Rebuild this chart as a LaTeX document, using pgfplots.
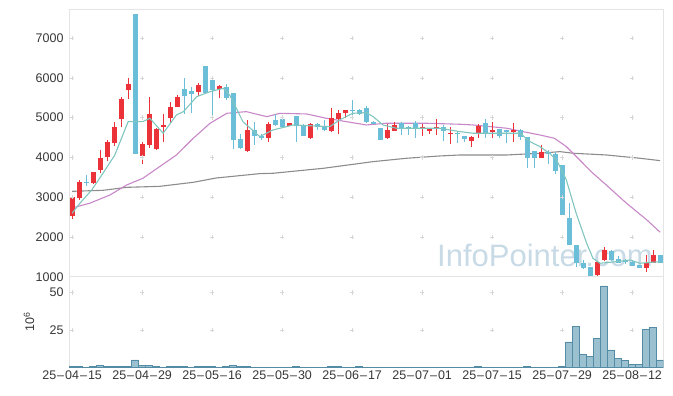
\documentclass[border=0pt]{standalone}
\usepackage{fontspec}
\setmainfont{Liberation Sans}
\usepackage{pgfplots}
\pgfplotsset{compat=1.18}
\usepackage{pgfplotstable}
\definecolor{cred}{RGB}{234,50,56}
\definecolor{cblue}{RGB}{106,190,216}
\definecolor{maA}{RGB}{128,198,190}
\definecolor{maB}{RGB}{200,136,200}
\definecolor{maC}{RGB}{140,140,140}
\definecolor{vfill}{RGB}{155,192,208}
\definecolor{vedge}{RGB}{85,140,165}
\definecolor{frm}{RGB}{228,228,228}
\definecolor{wm}{RGB}{200,218,230}
\definecolor{crs}{RGB}{215,215,215}
\definecolor{lbl}{RGB}{55,55,55}

% up candles (red)
\pgfplotstableread{
i o h l c
0 2530 3060 2460 3010
1 2970 3430 2930 3390
3 3350 3640 3340 3630
4 3690 4190 3600 3990
5 4020 4440 3900 4380
6 4360 4890 4290 4775
7 4970 5510 4775 5470
8 5680 5990 5460 5845
10 4046 4381 3836 4331
11 4313 5526 4230 5091
12 4210 4730 4190 4720
13 4760 5080 4400 4815
14 4982 5400 4858 5275
15 5275 5568 5260 5510
18 5650 5870 5543 5820
21 5720 5820 5480 5785
25 4170 4940 4130 4690
28 4497 4900 4380 4840
31 4800 4870 4790 4858
34 4481 4860 4460 4840
37 4673 5230 4650 4980
38 4966 5180 4590 5120
39 5120 5200 4980 5200
45 4480 4840 4460 4690
46 4673 4880 4660 4815
50 4723 4840 4530 4757
51 4673 4740 4600 4707
52 4715 4957 4564 4773
54 4580 4773 4330 4625
57 4423 4547 4255 4523
58 4606 4850 4500 4790
60 4631 4900 4500 4690
63 4631 4858 4380 4690
67 3996 4313 3996 4130
75 1050 1390 1030 1377
76 1427 1760 1410 1678
82 1218 1552 1133 1360
83 1360 1678 1360 1552
}\upT

% down candles (blue)
\pgfplotstableread{
i o h l c
2 3390 3560 3290 3355
9 7600 7600 4090 4090
16 5720 6000 5100 5545
17 5660 5760 5110 5590
19 6300 6300 5615 5615
20 5945 5945 4980 5694
22 5760 5840 5440 5480
23 5610 5610 4213 4450
24 4460 4600 4213 4225
26 4690 4890 4313 4547
27 4540 4600 4450 4500
29 4940 5091 4790 4815
30 4966 4990 4773 4773
32 5040 5040 4390 4780
33 4800 4840 4540 4547
35 4840 4870 4690 4757
36 4790 4950 4673 4690
40 5200 5440 5066 5170
41 5190 5220 5066 5090
42 5230 5280 4860 4900
43 4880 4910 4830 4860
44 4733 4733 4440 4440
47 4858 4900 4560 4733
48 4757 4790 4560 4733
49 4858 4925 4497 4733
53 4773 4815 4413 4673
55 4625 4640 4360 4580
56 4540 4550 4400 4464
59 4858 4957 4481 4606
61 4707 4707 4480 4547
62 4690 4690 4363 4648
64 4690 4710 4440 4523
65 4523 4523 3728 3996
66 4163 4163 3728 3996
68 4146 4188 3836 4087
69 4087 4146 3585 3670
70 3811 3811 2556 2556
71 2473 2850 1803 1803
72 1803 1803 1258 1350
73 1360 1427 1200 1233
74 1243 1243 1020 1033
77 1653 1680 1390 1427
78 1444 1527 1343 1360
79 1410 1460 1330 1390
80 1385 1427 1270 1285
81 1301 1301 1218 1218
84 1552 1552 1360 1360
}\downT

% volume, millions
\pgfplotstableread{
i v
0 0.6
1 0.6
2 0.2
3 0.6
4 1.3
5 0.6
6 0.6
7 0.6
8 0.6
9 4.9
10 1.1
11 1.1
12 0.6
13 0.2
14 0.6
15 0.6
16 0.6
17 0.2
18 0.6
19 0.6
20 0.6
21 0.2
22 0.6
23 1.2
24 0.6
25 0.6
26 0.2
27 0.2
28 0.2
29 0.2
30 0.2
31 0.2
32 0.6
33 0.2
34 0.2
35 0.2
36 0.2
37 0.6
38 0.6
39 0.2
40 0.2
41 0.6
42 0.2
43 0.2
44 0.2
45 0.2
46 0.2
47 0.2
48 0.2
49 0.2
50 0.2
51 0.2
52 0.2
53 0.2
54 0.2
55 0.2
56 0.2
57 0.2
58 0.6
59 0.2
60 0.2
61 0.2
62 0.2
63 0.2
64 0.2
65 0.6
66 0.2
67 0.2
68 0.2
69 0.2
70 0.6
71 16.9
72 27.4
73 8.7
74 7.3
75 19.4
76 54.3
77 11.6
78 6.0
79 4.7
80 2.0
81 2.0
82 25.4
83 26.7
84 4.9
}\volT

\pgfplotsset{
  base/.style={
    scale only axis, anchor=south west,
    width=594.3bp,
    xmin=-0.45, xmax=84.45,
    xtick={0,10,...,80},
    major tick length=0,
    axis line style={draw=frm, line width=1bp},
    tick label style={font=\fontsize{12.5bp}{15bp}\selectfont, text=lbl},
    /pgf/number format/assume math mode=true,
    /pgf/number format/1000 sep={},
    clip=true,
  },
  wick/.style={draw=none, mark=none, forget plot,
    error bars/.cd, y dir=both, y explicit, error mark=none,
    error bar style={line width=1bp, draw=#1, solid}},
  body/.style={draw=none, mark=none, forget plot,
    error bars/.cd, y dir=both, y explicit, error mark=none,
    error bar style={line width=5bp, draw=#1, solid}},
}

\begin{document}
\begin{tikzpicture}
\useasboundingbox (0,0) rectangle (673bp,396bp);
\node[anchor=base west, text=wm, inner sep=0pt, font=\fontsize{31bp}{31bp}\selectfont] at (437bp,129bp) {InfoPointer.com};

\begin{axis}[base,
  at={(69bp,119bp)}, height=267bp,
  ymin=1000, ymax=7700,
  ytick={1000,2000,3000,4000,5000,6000,7000},
  xticklabels={},
  yticklabel style={xshift=-2bp},
]
\pgfplotsinvokeforeach{0,10,20,30,40,50,60,70,80}{
  \addplot[only marks, mark=+, mark size=2.2bp, crs, forget plot] coordinates {(#1,2000)(#1,3000)(#1,4000)(#1,5000)(#1,6000)(#1,7000)};
}
\addplot[maC, line width=1.1bp, forget plot] coordinates {(0,3150)(4.4,3175)(7.8,3250)(12.5,3275)(17.3,3376)(20.6,3485)(23,3527)(26.8,3594)(28.7,3603)(35.9,3728)(43,3895)(47.8,3980)(52.5,4037)(55.4,4062)(62.1,4062)(66.8,4105)(69.7,4146)(71.6,4105)(76.3,4062)(81.1,3980)(84,3920)};
\addplot[maB, line width=1.1bp, forget plot] coordinates {(0,2733)(2.5,2850)(5.4,3058)(7.8,3310)(10.1,3477)(12.5,3770)(14.9,4062)(17.3,4481)(19.7,4858)(22.1,5108)(24.9,5150)(26.8,5066)(27.8,5024)(29.7,5108)(33.5,5091)(36.3,4983)(39.2,4898)(42,4815)(44.9,4858)(50.6,4858)(55.4,4833)(57.3,4815)(62.1,4733)(64.4,4648)(66.8,4565)(68.9,4481)(70.6,4272)(72.5,3938)(74.4,3603)(76.3,3310)(79.2,2850)(82.1,2432)(84,2122)};
% candles
\addplot[wick=cred] table[x=i, y expr={(\thisrow{h}+\thisrow{l})/2}, y error expr={(\thisrow{h}-\thisrow{l})/2}] {\upT};
\addplot[body=cred] table[x=i, y expr={(\thisrow{o}+\thisrow{c})/2}, y error expr={max(abs(\thisrow{c}-\thisrow{o})/2,14)}] {\upT};
\addplot[wick=cblue] table[x=i, y expr={(\thisrow{h}+\thisrow{l})/2}, y error expr={(\thisrow{h}-\thisrow{l})/2}] {\downT};
\addplot[body=cblue] table[x=i, y expr={(\thisrow{o}+\thisrow{c})/2}, y error expr={max(abs(\thisrow{c}-\thisrow{o})/2,14)}] {\downT};
\addplot[maA, line width=1.1bp, forget plot] coordinates {(0,2600)(1.1,2850)(2.8,3184)(4.4,3603)(6.1,4062)(8,4898)(10.1,4898)(11.1,4983)(13,4607)(14.9,5066)(15.9,5150)(17.8,5526)(19.7,5650)(21.6,5735)(22.5,5568)(24.4,4898)(26.8,4523)(28.7,4690)(31.6,4815)(36.8,4773)(38.2,4940)(40.1,5108)(42,5125)(43,5024)(44.4,4815)(46.3,4733)(49.2,4733)(52.5,4733)(55.4,4648)(57.3,4607)(61.1,4607)(64,4607)(65.4,4398)(66.8,4272)(68.2,4105)(69.2,3938)(70.6,3435)(72,2600)(73.5,1847)(74.4,1470)(75.4,1345)(77.8,1385)(79.7,1427)(81.1,1345)(84,1385)};
\end{axis}

\begin{axis}[base,
  at={(69bp,28.7bp)}, height=90.3bp,
  ymin=0, ymax=60.3,
  ytick={25,50},
  xticklabels={25\kern1pt--\kern1pt04\kern1pt--\kern1pt15,25\kern1pt--\kern1pt04\kern1pt--\kern1pt29,25\kern1pt--\kern1pt05\kern1pt--\kern1pt16,25\kern1pt--\kern1pt05\kern1pt--\kern1pt30,25\kern1pt--\kern1pt06\kern1pt--\kern1pt17,25\kern1pt--\kern1pt07\kern1pt--\kern1pt01,25\kern1pt--\kern1pt07\kern1pt--\kern1pt15,25\kern1pt--\kern1pt07\kern1pt--\kern1pt29,25\kern1pt--\kern1pt08\kern1pt--\kern1pt12},
  yticklabel style={xshift=-2bp},
  ylabel={10\textsuperscript{6}},
  every axis y label/.style={at={(axis description cs:-0.0673,0.5)}, rotate=90, anchor=center, font=\fontsize{12.5bp}{15bp}\selectfont, text=lbl},
]
\pgfplotsinvokeforeach{0,10,20,30,40,50,60,70,80}{
  \addplot[only marks, mark=+, mark size=2.2bp, crs, forget plot] coordinates {(#1,25)(#1,50)};
}
\addplot[ybar, bar width=7bp, fill=vfill, draw=vedge, line width=0.7bp] table[x=i, y=v] {\volT};
\end{axis}
\end{tikzpicture}
\end{document}
